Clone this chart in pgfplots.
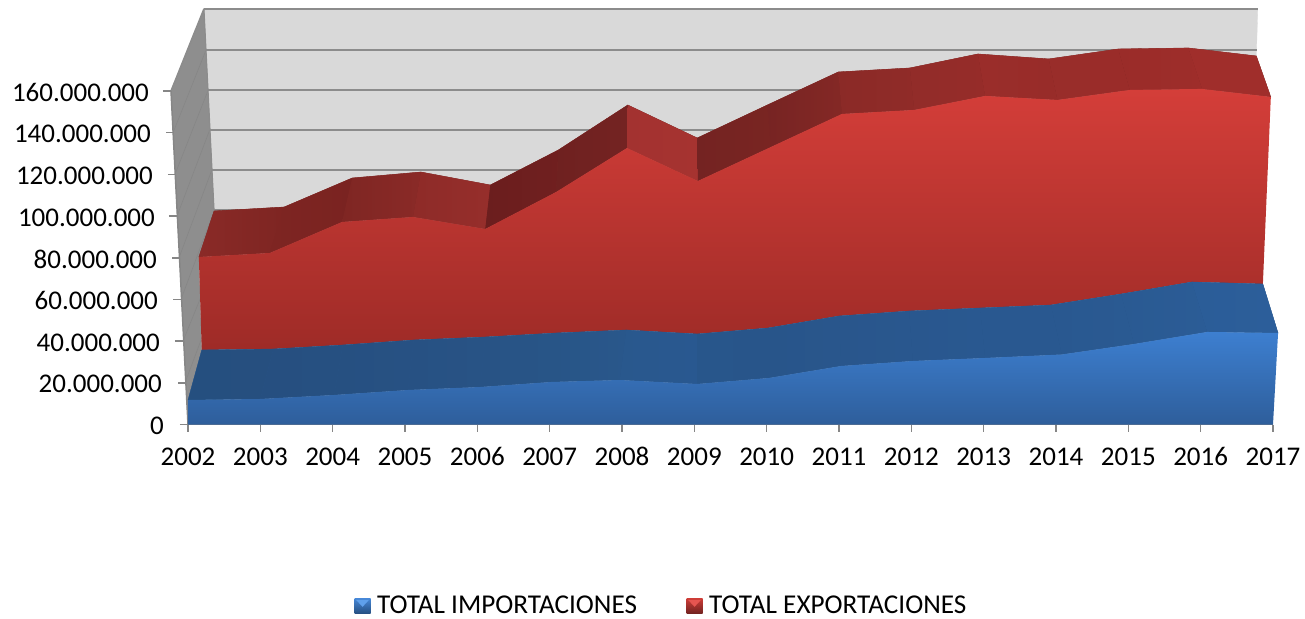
\documentclass[border=0pt]{standalone}
\usepackage{pgfplots}
\pgfplotsset{compat=1.18}
\usepackage{fontspec}
\setmainfont{Carlito}
\definecolor{wall}{HTML}{D9D9D9}
\definecolor{grid}{HTML}{8C8C8C}
\definecolor{side}{HTML}{8E8E8E}
\definecolor{sidel}{HTML}{868686}
\definecolor{axisc}{HTML}{868686}
\newcommand{\hx}[2]{\definecolor{#1}{HTML}{#2}}
\hx{ra}{8A2A27}\hx{rA}{7E2522}\hx{rb}{7E2522}\hx{rB}{7A2321}\hx{rc}{7F2623}\hx{rC}{8A2A27}
\hx{rd}{8E2B28}\hx{rD}{962E2B}\hx{re}{6B1E1E}\hx{rE}{701F1F}\hx{rf}{6F2120}\hx{rF}{742322}
\hx{rg}{A33230}\hx{rG}{A63330}\hx{rh}{742322}\hx{rH}{792522}\hx{ri}{772423}\hx{rI}{842825}
\hx{rj}{8B2A27}\hx{rJ}{902B28}\hx{rk}{922C29}\hx{rK}{962C29}\hx{rl}{9A2D2A}\hx{rL}{982C29}
\hx{rm}{992D2A}\hx{rM}{9A2C29}\hx{rn}{9A2C29}\hx{rN}{9E2D2A}\hx{ro}{A02E2B}\hx{rO}{A02E2B}
\hx{ba}{254F7F}\hx{bA}{264F7F}\hx{bb}{264F80}\hx{bB}{265081}\hx{bc}{265081}\hx{bC}{275183}
\hx{bd}{275183}\hx{bD}{285385}\hx{be}{285385}\hx{bE}{285587}\hx{bf}{285587}\hx{bF}{29578B}
\hx{bg}{29588D}\hx{bG}{295890}\hx{bh}{28568B}\hx{bH}{28558A}\hx{bi}{28558A}\hx{bI}{29568C}
\hx{bj}{29568C}\hx{bJ}{29578E}\hx{bk}{29578E}\hx{bK}{295890}\hx{bl}{295890}\hx{bL}{295890}
\hx{bm}{295890}\hx{bM}{2A5A92}\hx{bn}{2A5A92}\hx{bN}{2B5C96}\hx{bo}{2B5D98}\hx{bO}{2C5E9A}
\pgfplotsset{
  seg/.style 2 args={draw=none,left color=#1,right color=#2,forget plot},
  flat/.style={fill=#1,draw=#1,line width=0.3pt,forget plot},
  gl/.style={draw=grid,line width=2pt,forget plot},
  tk/.style={draw=axisc,line width=1.5pt,forget plot},
  dg/.style={draw=sidel,line width=0.6pt,forget plot},
}
\begin{document}
\begin{tikzpicture}
\path[use as bounding box] (-188pt,-193.5pt) rectangle (1117pt,424.5pt);
\begin{axis}[
  scale only axis, width=1085pt, height=333.5pt,
  xmin=2002, xmax=2017, ymin=0, ymax=160,
  clip=false,
  axis line style={draw=none},
  xtick={2002,2003,...,2017},
  xticklabels={2002,2003,2004,2005,2006,2007,2008,2009,2010,2011,2012,2013,2014,2015,2016,2017},
  ytick={0,20,40,60,80,100,120,140,160},
  yticklabels={0,20.000.000\kern2pt,40.000.000\kern4pt,60.000.000\kern6pt,80.000.000\kern7pt,100.000.000\kern9pt,120.000.000\kern11pt,140.000.000\kern13pt,160.000.000\kern15pt},
  xtick pos=lower, ytick pos=left,
  tick align=outside, major tick length=7pt,
  xtick style={draw=axisc,line width=1.5pt},
  ytick style={draw=none},
  tick label style={font=\fontsize{27}{30}\selectfont,text=black},
  yticklabel style={anchor=east,inner sep=0pt,xshift=-17pt,yshift=-1.5pt},
  xticklabel style={anchor=north,inner sep=0pt,text height=17pt,text depth=0pt,yshift=-16.5pt},
  legend cell align=left,
  legend style={draw=none,fill=none,at={(axis cs:2004.30,-82.3)},anchor=north west,
    legend columns=2,font=\fontsize{27.2}{30}\selectfont,inner sep=0pt,
    nodes={inner xsep=2.5pt,inner ysep=0pt},
    /tikz/every even column/.append style={column sep=47pt}},
]
% back wall
\addplot[flat=wall] coordinates {(2002.22,199.38) (2016.79,199.38) (2016.77,176.82) (2016.77,84) (2002.36,84)} -- cycle;
% back wall grid lines
\addplot[gl] coordinates {(2002.22,199.38) (2016.79,199.38)};
\addplot[gl] coordinates {(2002.25,179.70) (2016.78,179.70)};
\addplot[gl] coordinates {(2002.28,160.51) (2016.78,160.51)};
\addplot[gl] coordinates {(2002.30,141.31) (2016.78,141.31)};
\addplot[gl] coordinates {(2002.33,122.12) (2016.78,122.12)};
\addplot[gl] coordinates {(2002.36,102.93) (2016.78,102.93)};
% left wall
\addplot[flat=side] coordinates {(2001.765,160) (2002.22,199.38) (2002.36,102.45) (2002.15,80.37) (2002.19,35.75) (2002.00,11.76) (2002.00,0)} -- cycle;
\addplot[dg] coordinates {(2001.793,140) (2002.25,179.70)};
\addplot[dg] coordinates {(2001.820,120) (2002.28,160.51)};
\addplot[dg] coordinates {(2001.848,100) (2002.30,141.31)};
\addplot[dg] coordinates {(2001.876,80) (2002.33,122.12)};
\addplot[dg] coordinates {(2001.903,60) (2002.36,102.45)};
\addplot[dg] coordinates {(2001.931,40) (2002.207,63.58)};
\addplot[dg] coordinates {(2001.959,20) (2002.18,40.5)};
\addplot[draw=grid,line width=1.5pt,forget plot] coordinates {(2001.765,160) (2002.22,199.38)};
\addplot[draw=grid,line width=1.2pt,forget plot] coordinates {(2002.22,199.38) (2002.36,102.45)};
% slanted value axis and its ticks
\addplot[tk] coordinates {(2002.0,0) (2001.765,160)};
\addplot[tk] coordinates {(2001.654,160) (2001.765,160)};
\addplot[tk] coordinates {(2001.696,140) (2001.793,140)};
\addplot[tk] coordinates {(2001.723,120) (2001.820,120)};
\addplot[tk] coordinates {(2001.737,100) (2001.848,100)};
\addplot[tk] coordinates {(2001.779,80) (2001.876,80)};
\addplot[tk] coordinates {(2001.793,60) (2001.903,60)};
\addplot[tk] coordinates {(2001.820,40) (2001.931,40)};
\addplot[tk] coordinates {(2001.862,20) (2001.959,20)};
\addplot[tk] coordinates {(2001.889,0) (2002.0,0)};
% baseline
\addplot[tk] coordinates {(2002,0) (2017,0)};
% TOTAL EXPORTACIONES: top face
\addplot[flat=rc] coordinates {
 (2002.15,80.37) (2003.13,82.29) (2004.13,97.17) (2005.11,99.57) (2006.11,93.81) (2007.09,111.56) (2008.07,132.68) (2009.05,116.84)
 (2010.06,133.16) (2011.04,148.99) (2012.04,150.91) (2013.02,157.63) (2014.02,155.71) (2015.02,160.51) (2016.02,160.99) (2016.97,157.15)
 (2016.77,176.82) (2015.83,180.66) (2014.86,180.18) (2013.90,175.39) (2012.92,177.78) (2011.98,171.07) (2010.99,169.15) (2010.01,153.31)
 (2009.04,137.48) (2008.08,153.31) (2007.12,131.72) (2006.18,114.92) (2005.22,121.16) (2004.27,118.28) (2003.33,104.37) (2002.36,102.45)} -- cycle;
\addplot[seg={ra}{rA}] coordinates {(2002.15,80.37) (2003.13,82.29) (2003.33,104.37) (2002.36,102.45)} -- cycle;
\addplot[seg={rb}{rB}] coordinates {(2003.13,82.29) (2004.13,97.17) (2004.27,118.28) (2003.33,104.37)} -- cycle;
\addplot[seg={rc}{rC}] coordinates {(2004.13,97.17) (2005.11,99.57) (2005.22,121.16) (2004.27,118.28)} -- cycle;
\addplot[seg={rd}{rD}] coordinates {(2005.11,99.57) (2006.11,93.81) (2006.18,114.92) (2005.22,121.16)} -- cycle;
\addplot[seg={re}{rE}] coordinates {(2006.11,93.81) (2007.09,111.56) (2007.12,131.72) (2006.18,114.92)} -- cycle;
\addplot[seg={rf}{rF}] coordinates {(2007.09,111.56) (2008.07,132.68) (2008.08,153.31) (2007.12,131.72)} -- cycle;
\addplot[seg={rg}{rG}] coordinates {(2008.07,132.68) (2009.05,116.84) (2009.04,137.48) (2008.08,153.31)} -- cycle;
\addplot[seg={rh}{rH}] coordinates {(2009.05,116.84) (2010.06,133.16) (2010.01,153.31) (2009.04,137.48)} -- cycle;
\addplot[seg={ri}{rI}] coordinates {(2010.06,133.16) (2011.04,148.99) (2010.99,169.15) (2010.01,153.31)} -- cycle;
\addplot[seg={rj}{rJ}] coordinates {(2011.04,148.99) (2012.04,150.91) (2011.98,171.07) (2010.99,169.15)} -- cycle;
\addplot[seg={rk}{rK}] coordinates {(2012.04,150.91) (2013.02,157.63) (2012.92,177.78) (2011.98,171.07)} -- cycle;
\addplot[seg={rl}{rL}] coordinates {(2013.02,157.63) (2014.02,155.71) (2013.90,175.39) (2012.92,177.78)} -- cycle;
\addplot[seg={rm}{rM}] coordinates {(2014.02,155.71) (2015.02,160.51) (2014.86,180.18) (2013.90,175.39)} -- cycle;
\addplot[seg={rn}{rN}] coordinates {(2015.02,160.51) (2016.02,160.99) (2015.83,180.66) (2014.86,180.18)} -- cycle;
\addplot[seg={ro}{rO}] coordinates {(2016.02,160.99) (2016.97,157.15) (2016.77,176.82) (2015.83,180.66)} -- cycle;
% TOTAL EXPORTACIONES: front face
\addplot[draw=none,top color={rgb,255:red,212;green,62;blue,57},bottom color={rgb,255:red,158;green,43;blue,39},forget plot] coordinates {
 (2002.15,80.37) (2003.13,82.29) (2004.13,97.17) (2005.11,99.57) (2006.11,93.81) (2007.09,111.56) (2008.07,132.68) (2009.05,116.84)
 (2010.06,133.16) (2011.04,148.99) (2012.04,150.91) (2013.02,157.63) (2014.02,155.71) (2015.02,160.51) (2016.02,160.99) (2016.97,157.15)
 (2016.86,67.42) (2015.88,68.38) (2014.90,62.62) (2013.93,57.34) (2012.95,55.90) (2011.97,54.46) (2011.00,52.06) (2010.02,46.31)
 (2009.04,43.43) (2008.06,45.35) (2007.09,43.91) (2006.11,41.99) (2005.12,40.55) (2004.14,38.15) (2003.18,36.23) (2002.19,35.75)} -- cycle;
% TOTAL IMPORTACIONES: top face
\addplot[flat=bh] coordinates {
 (2002.00,11.76) (2003.00,12.24) (2004.02,14.16) (2005.04,16.55) (2006.04,17.99) (2007.02,20.39) (2007.97,21.35) (2009.04,19.43)
 (2010.03,22.31) (2011.03,28.07) (2012.02,30.47) (2013.02,31.91) (2014.08,33.59) (2015.08,38.63) (2016.09,44.39) (2017.07,43.91)
 (2016.86,67.42) (2015.88,68.38) (2014.90,62.62) (2013.93,57.34) (2012.95,55.90) (2011.97,54.46) (2011.00,52.06) (2010.02,46.31)
 (2009.04,43.43) (2008.06,45.35) (2007.09,43.91) (2006.11,41.99) (2005.12,40.55) (2004.14,38.15) (2003.18,36.23) (2002.19,35.75)} -- cycle;
\addplot[seg={ba}{bA}] coordinates {(2002.00,11.76) (2003.00,12.24) (2003.18,36.23) (2002.19,35.75)} -- cycle;
\addplot[seg={bb}{bB}] coordinates {(2003.00,12.24) (2004.02,14.16) (2004.14,38.15) (2003.18,36.23)} -- cycle;
\addplot[seg={bc}{bC}] coordinates {(2004.02,14.16) (2005.04,16.55) (2005.12,40.55) (2004.14,38.15)} -- cycle;
\addplot[seg={bd}{bD}] coordinates {(2005.04,16.55) (2006.04,17.99) (2006.11,41.99) (2005.12,40.55)} -- cycle;
\addplot[seg={be}{bE}] coordinates {(2006.04,17.99) (2007.02,20.39) (2007.09,43.91) (2006.11,41.99)} -- cycle;
\addplot[seg={bf}{bF}] coordinates {(2007.02,20.39) (2007.97,21.35) (2008.06,45.35) (2007.09,43.91)} -- cycle;
\addplot[seg={bg}{bG}] coordinates {(2007.97,21.35) (2009.04,19.43) (2009.04,43.43) (2008.06,45.35)} -- cycle;
\addplot[seg={bh}{bH}] coordinates {(2009.04,19.43) (2010.03,22.31) (2010.02,46.31) (2009.04,43.43)} -- cycle;
\addplot[seg={bi}{bI}] coordinates {(2010.03,22.31) (2011.03,28.07) (2011.00,52.06) (2010.02,46.31)} -- cycle;
\addplot[seg={bj}{bJ}] coordinates {(2011.03,28.07) (2012.02,30.47) (2011.97,54.46) (2011.00,52.06)} -- cycle;
\addplot[seg={bk}{bK}] coordinates {(2012.02,30.47) (2013.02,31.91) (2012.95,55.90) (2011.97,54.46)} -- cycle;
\addplot[seg={bl}{bL}] coordinates {(2013.02,31.91) (2014.08,33.59) (2013.93,57.34) (2012.95,55.90)} -- cycle;
\addplot[seg={bm}{bM}] coordinates {(2014.08,33.59) (2015.08,38.63) (2014.90,62.62) (2013.93,57.34)} -- cycle;
\addplot[seg={bn}{bN}] coordinates {(2015.08,38.63) (2016.09,44.39) (2015.88,68.38) (2014.90,62.62)} -- cycle;
\addplot[seg={bo}{bO}] coordinates {(2016.09,44.39) (2017.07,43.91) (2016.86,67.42) (2015.88,68.38)} -- cycle;
% TOTAL IMPORTACIONES: front face
\addplot[draw=none,top color={rgb,255:red,61;green,127;blue,208},bottom color={rgb,255:red,46;green,94;blue,155},forget plot] coordinates {
 (2002.00,0) (2002.00,11.76) (2003.00,12.24) (2004.02,14.16) (2005.04,16.55) (2006.04,17.99) (2007.02,20.39) (2007.97,21.35) (2009.04,19.43)
 (2010.03,22.31) (2011.03,28.07) (2012.02,30.47) (2013.02,31.91) (2014.08,33.59) (2015.08,38.63) (2016.09,44.39) (2017.07,43.91) (2017.0,0)} -- cycle;
% legend
\addlegendimage{legend image code/.code={
  \path[draw=none,fill=none] (0pt,0pt) -- (20pt,0pt);
  \path[draw=none,top color={rgb,255:red,70;green,135;blue,215},bottom color={rgb,255:red,38;green,80;blue,130}] (0pt,-7.5pt) rectangle (16pt,7.5pt);
  \path[draw=none,fill={rgb,255:red,95;green,160;blue,235}] (1.5pt,6pt) -- (14.5pt,6pt) -- (8pt,-1pt) -- cycle;}}
\addlegendentry{TOTAL IMPORTACIONES}
\addlegendimage{legend image code/.code={
  \path[draw=none,fill=none] (0pt,0pt) -- (20pt,0pt);
  \path[draw=none,top color={rgb,255:red,205;green,60;blue,55},bottom color={rgb,255:red,115;green,35;blue,33}] (0pt,-7.5pt) rectangle (16pt,7.5pt);
  \path[draw=none,fill={rgb,255:red,230;green,85;blue,80}] (1.5pt,6pt) -- (14.5pt,6pt) -- (8pt,-1pt) -- cycle;}}
\addlegendentry{TOTAL EXPORTACIONES}
\end{axis}
\end{tikzpicture}
\end{document}
